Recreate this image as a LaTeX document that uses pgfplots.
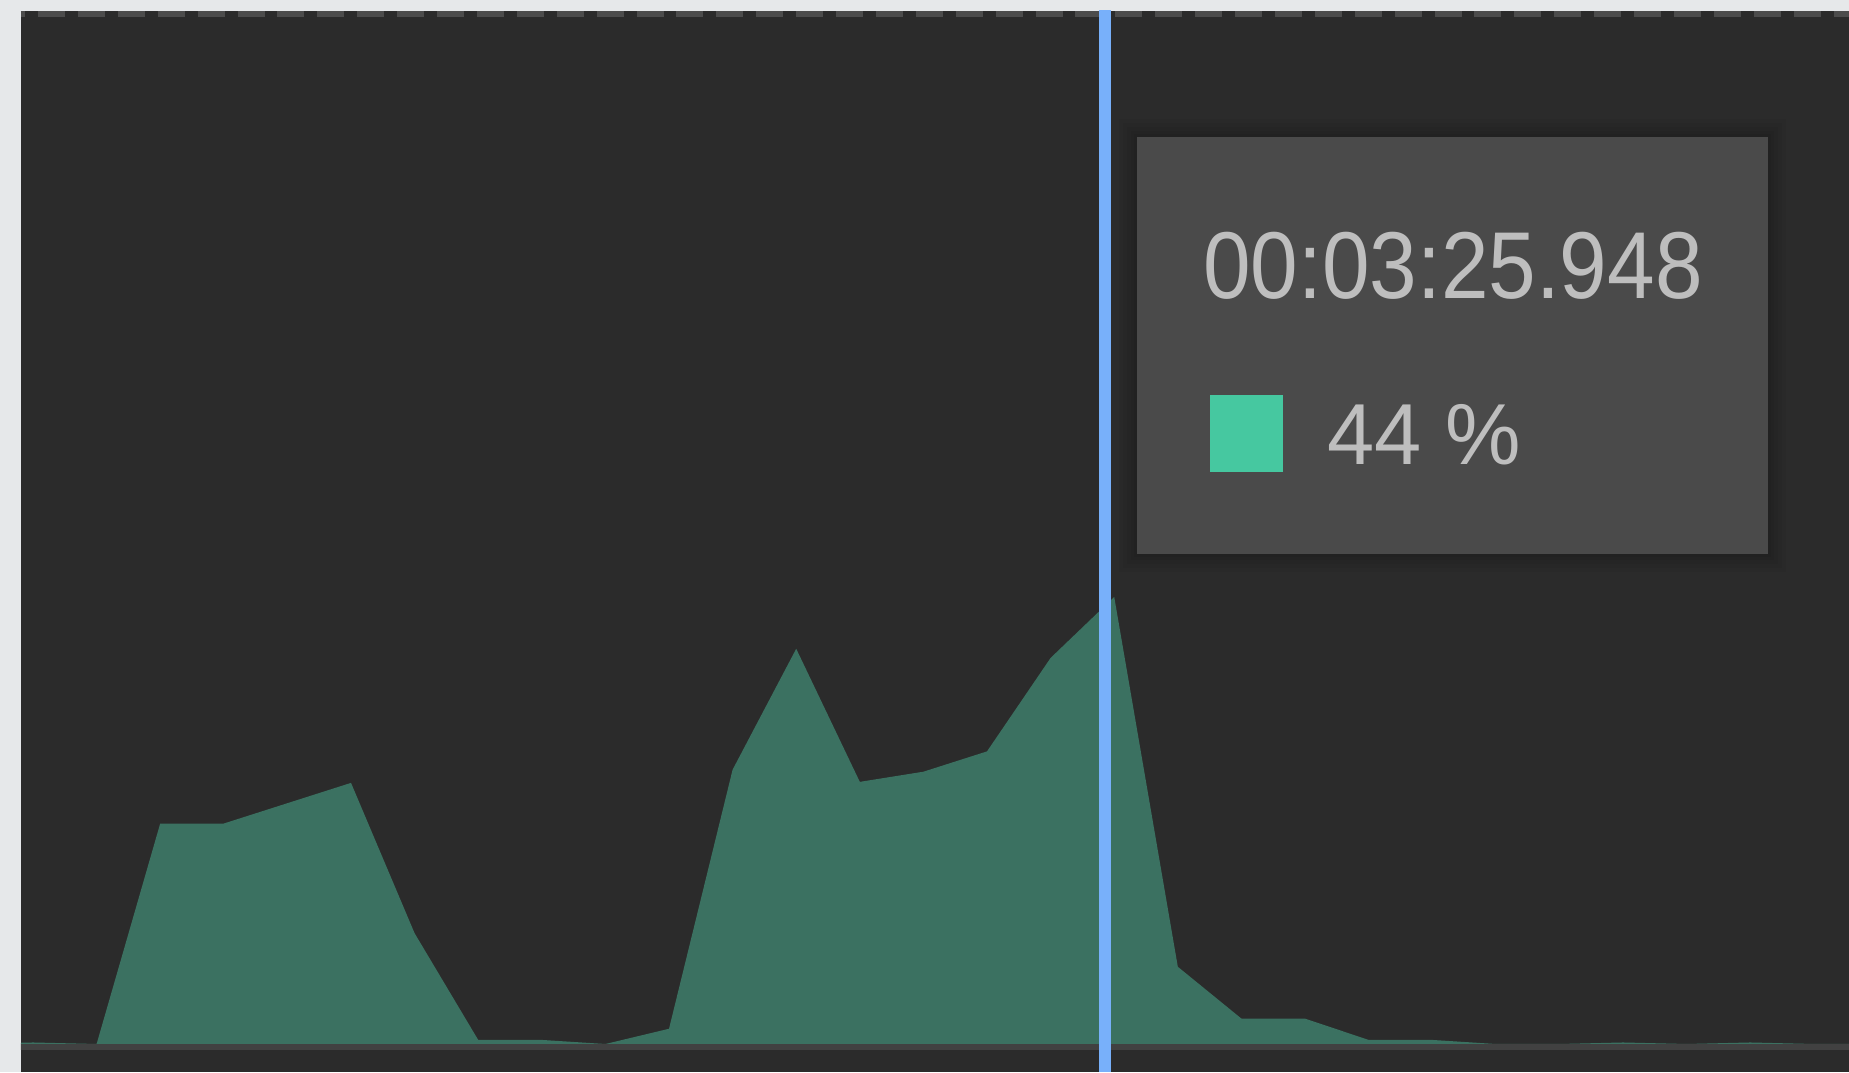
\documentclass[border=0pt]{standalone}
\usepackage{pgfplots}
\pgfplotsset{compat=1.18}
\usepackage{fontspec}
\setmainfont{Liberation Sans}

\definecolor{pagebg}{HTML}{E6E8EA}
\definecolor{panel}{HTML}{2B2B2B}
\definecolor{areacol}{HTML}{3B7161}
\definecolor{baseln}{HTML}{414141}
\definecolor{dashcol}{HTML}{4C4C4C}
\definecolor{cursor}{RGB}{120,176,250}
\definecolor{tipbg}{HTML}{4A4A4A}
\definecolor{tiptext}{HTML}{BEBEBE}
\definecolor{swatch}{HTML}{46C8A0}

\begin{document}
\begin{tikzpicture}
% light page around the panel
\fill[pagebg] (-10.5pt,0) rectangle (914pt,536pt);

\begin{axis}[
    at={(0,0)}, anchor=south west,
    width=914pt, height=530.5pt,
    scale only axis,
    xmin=-0.1887, xmax=28.553,
    ymin=-2.756, ymax=101.67,
    ticks=none,
    axis line style={draw=none},
    axis background/.style={fill=panel},
]
% dashed top grid line
\draw[dashcol, line width=3pt, dash pattern=on 13.5pt off 6.45pt, dash phase=11.45pt]
    ([yshift=-1.5pt]rel axis cs:0,1) -- ([yshift=-1.5pt]rel axis cs:1,1);

% CPU usage, percent per sample
\addplot[fill=areacol, draw=none] coordinates {
    (-1,0) (0,0.15) (1,0) (2,21.7) (3,21.7) (4,23.7) (5,25.7) (6,10.9)
    (7,0.4) (8,0.4) (9,0) (10,1.5) (11,27.0) (12,38.9) (13,25.8) (14,26.8)
    (15,28.8) (16,38.0) (17,44.0) (18,7.6) (19,2.5) (20,2.5) (21,0.4)
    (22,0.4) (23,0) (24,0) (25,0.15) (26,0) (27,0.15) (28,0) (29,0)
};

% baseline
\fill[baseln] (axis cs:-1,-0.59) rectangle (axis cs:30,0);

% cursor
\addplot[cursor, line width=6pt] coordinates {(16.86,-3) (16.86,103)};
\end{axis}

% tooltip shadow
\foreach \s in {9,7,5,3,1.5}{
  \fill[black, opacity=0.035] (558pt-\s pt,259pt-\s pt) rectangle (873.5pt+\s pt,467.5pt+\s pt);
}
% tooltip
\fill[tipbg] (558pt,259pt) rectangle (873.5pt,467.5pt);
\node[anchor=base west, inner sep=0pt, text=tiptext, font=\fontsize{47.5}{50}\selectfont]
    at (591pt,386.5pt) {\scalebox{0.90}[1]{00:03:25.948}};
\fill[swatch] (594.5pt,300pt) rectangle (631pt,338.5pt);
\node[anchor=base west, inner sep=0pt, text=tiptext, font=\fontsize{43.3}{46}\selectfont]
    at (653pt,303.5pt) {\scalebox{0.98}[1]{44 \%}};
\end{tikzpicture}
\end{document}
